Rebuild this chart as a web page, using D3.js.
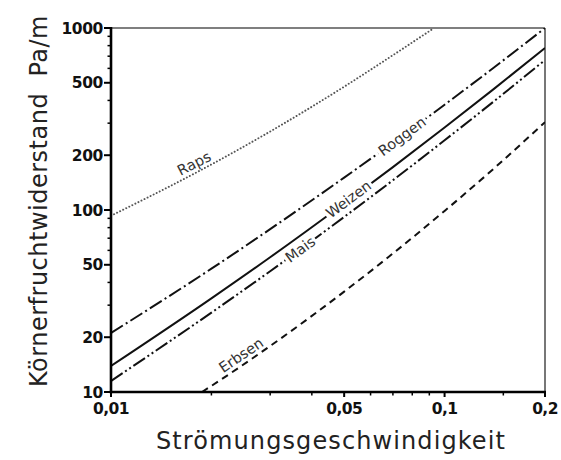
<!DOCTYPE html>
<html><head><meta charset="utf-8">
<script src="https://cdn.jsdelivr.net/npm/d3@7"></script>
<style>body{margin:0;background:#fff}</style></head>
<body>
<svg id="chart" width="561" height="460"></svg>
<script>
// ---- data ----
const xTickValues = [0.01, 0.05, 0.1, 0.2];
const xTickLabels = ["0,01", "0,05", "0,1", "0,2"];
const xMinorTicks = [0.02, 0.03, 0.04, 0.06, 0.07, 0.08, 0.09, 0.15];
const yTickValues = [10, 20, 50, 100, 200, 500, 1000];
const yTickLabels = ["10", "20", "50", "100", "200", "500", "1000"];
const yMinorTicks = [30, 40, 60, 70, 80, 90, 300, 400, 600, 700, 800, 900];

const seriesNames = ["Raps", "Roggen", "Weizen", "Mais", "Erbsen"];
const xRaps   = [0.01, 0.02, 0.03, 0.05, 0.07, 0.093];
const yRaps   = [93, 178, 270, 476, 709, 1000];
const xRoggen = [0.01, 0.02, 0.03, 0.05, 0.07, 0.1, 0.14, 0.2];
const yRoggen = [21.1, 47.6, 78.5, 150.7, 234, 379, 603, 1000];
const xWeizen = [0.01, 0.02, 0.03, 0.05, 0.07, 0.1, 0.14, 0.2];
const yWeizen = [13.9, 32.7, 55.0, 108.6, 172, 284, 460, 776];
const xMais   = [0.01, 0.02, 0.03, 0.05, 0.07, 0.1, 0.14, 0.2];
const yMais   = [11.5, 27.3, 46.1, 91.6, 145.7, 241.6, 393, 667];
const xErbsen = [0.01874, 0.02, 0.03, 0.05, 0.07, 0.1, 0.14, 0.2];
const yErbsen = [10, 10.8, 17.9, 35.6, 57.7, 98.8, 168, 304];

// label anchor x-values (data units) along each curve
const labelX = [0.01824, 0.0745, 0.0517, 0.0369, 0.0254];

// ---- layout & styles ----
const W = 561, H = 460;
const m = {left: 111, right: 16, top: 28, bottom: 68};
const svg = d3.select("#chart");
const x = d3.scaleLog().domain([0.01, 0.2]).range([m.left, W - m.right]);
const y = d3.scaleLog().domain([10, 1000]).range([H - m.bottom, m.top]);

const xs = [xRaps, xRoggen, xWeizen, xMais, xErbsen];
const ys = [yRaps, yRoggen, yWeizen, yMais, yErbsen];
const styles = [
  {dash: "0.1,3.3", width: 1.9, color: "#555", cap: "round"},
  {dash: "14,3.5,2,3.5", width: 2, color: "#111", cap: "butt"},
  {dash: null, width: 2, color: "#111", cap: "butt"},
  {dash: "14,3,2,3,2,3", width: 2, color: "#111", cap: "butt"},
  {dash: "7,5", width: 2, color: "#111", cap: "butt"}
];
const labelOffset = [-9, 0, -1, 0, -9];

// clip
svg.append("clipPath").attr("id", "clip").append("rect")
  .attr("x", m.left).attr("y", m.top)
  .attr("width", W - m.right - m.left).attr("height", H - m.bottom - m.top);

// frame (top & right thin)
svg.append("line").attr("x1", m.left).attr("x2", W - m.right).attr("y1", m.top).attr("y2", m.top)
  .attr("stroke", "#555").attr("stroke-width", 1.6);
svg.append("line").attr("x1", W - m.right).attr("x2", W - m.right).attr("y1", m.top).attr("y2", H - m.bottom)
  .attr("stroke", "#555").attr("stroke-width", 1.6);

// curves
const line = d3.line().x(d => x(d[0])).y(d => y(d[1])).curve(d3.curveMonotoneX);
const gLines = svg.append("g").attr("clip-path", "url(#clip)");
seriesNames.forEach((name, i) => {
  const pts = xs[i].map((v, k) => [v, ys[i][k]]);
  gLines.append("path").datum(pts)
    .attr("d", line)
    .attr("fill", "none")
    .attr("stroke", styles[i].color)
    .attr("stroke-width", styles[i].width)
    .attr("stroke-linecap", styles[i].cap)
    .attr("stroke-dasharray", styles[i].dash);
});

// labels on curves
function interpLog(xa, ya, xv) {
  const lx = Math.log10(xv);
  for (let k = 0; k < xa.length - 1; k++) {
    const a = Math.log10(xa[k]), b = Math.log10(xa[k + 1]);
    if (lx >= a && lx <= b) {
      const t = (lx - a) / (b - a);
      return Math.pow(10, Math.log10(ya[k]) + t * (Math.log10(ya[k + 1]) - Math.log10(ya[k])));
    }
  }
  return ya[ya.length - 1];
}
seriesNames.forEach((name, i) => {
  const xv = labelX[i];
  const px = x(xv), py = y(interpLog(xs[i], ys[i], xv));
  const px2 = x(xv * 1.05), py2 = y(interpLog(xs[i], ys[i], xv * 1.05));
  const ang = Math.atan2(py2 - py, px2 - px) * 180 / Math.PI;
  const g = svg.append("g")
    .attr("transform", `translate(${px},${py}) rotate(${ang}) translate(0,${labelOffset[i]})`);
  const rect = g.append("rect").attr("fill", "#fff");
  const t = g.append("text").text(name)
    .attr("text-anchor", "middle").attr("dy", "0.36em")
    .attr("font-family", "DejaVu Sans, sans-serif").attr("font-size", 14.5)
    .attr("fill", "#333");
  const w = t.node().getComputedTextLength();
  rect.attr("x", -w / 2 - 2).attr("y", -7).attr("width", w + 4).attr("height", 14);
});

// axes lines (thick)
svg.append("line").attr("x1", m.left).attr("x2", m.left).attr("y1", m.top - 1).attr("y2", H - m.bottom + 1.2)
  .attr("stroke", "#000").attr("stroke-width", 2.6);
svg.append("line").attr("x1", m.left - 1.2).attr("x2", W - m.right + 1).attr("y1", H - m.bottom).attr("y2", H - m.bottom)
  .attr("stroke", "#000").attr("stroke-width", 2.6);

// y ticks
svg.append("g").selectAll("line.ymaj").data(yTickValues).join("line")
  .attr("x1", m.left - 7).attr("x2", m.left).attr("y1", d => y(d)).attr("y2", d => y(d))
  .attr("stroke", "#000").attr("stroke-width", 2);
svg.append("g").selectAll("line.ymin").data(yMinorTicks).join("line")
  .attr("x1", m.left - 3.5).attr("x2", m.left).attr("y1", d => y(d)).attr("y2", d => y(d))
  .attr("stroke", "#000").attr("stroke-width", 1.5);
svg.append("g").selectAll("text").data(yTickValues).join("text")
  .attr("x", m.left - 8).attr("y", d => y(d)).attr("dy", "0.36em")
  .attr("text-anchor", "end")
  .attr("font-family", "DejaVu Sans, sans-serif").attr("font-weight", "bold")
  .attr("font-size", 15.5).attr("letter-spacing", -0.4).attr("fill", "#111")
  .text((d, i) => yTickLabels[i]);

// x ticks
svg.append("g").selectAll("line.xmaj").data(xTickValues).join("line")
  .attr("x1", d => x(d)).attr("x2", d => x(d)).attr("y1", H - m.bottom).attr("y2", H - m.bottom + 5)
  .attr("stroke", "#000").attr("stroke-width", 2);
svg.append("g").selectAll("line.xmin").data(xMinorTicks).join("line")
  .attr("x1", d => x(d)).attr("x2", d => x(d)).attr("y1", H - m.bottom).attr("y2", H - m.bottom + 3.5)
  .attr("stroke", "#000").attr("stroke-width", 1.5);
svg.append("g").selectAll("text").data(xTickValues).join("text")
  .attr("x", d => x(d)).attr("y", H - m.bottom + 22)
  .attr("text-anchor", "middle")
  .attr("font-family", "DejaVu Sans, sans-serif").attr("font-weight", "bold")
  .attr("font-size", 15.5).attr("letter-spacing", -0.6).attr("fill", "#111")
  .text((d, i) => xTickLabels[i]);

// axis titles
svg.append("text").attr("x", 331).attr("y", 449)
  .attr("text-anchor", "middle")
  .attr("font-family", "DejaVu Sans, sans-serif").attr("font-size", 24)
  .attr("letter-spacing", 1.1).attr("fill", "#222")
  .text("Strömungsgeschwindigkeit");
svg.append("text").attr("transform", "translate(47,201) rotate(-90)")
  .attr("text-anchor", "middle")
  .attr("font-family", "DejaVu Sans, sans-serif").attr("font-size", 24)
  .attr("letter-spacing", 0.5).attr("fill", "#222")
  .attr("xml:space", "preserve")
  .text("Körnerfruchtwiderstand  Pa/m");
</script>
</body></html>
